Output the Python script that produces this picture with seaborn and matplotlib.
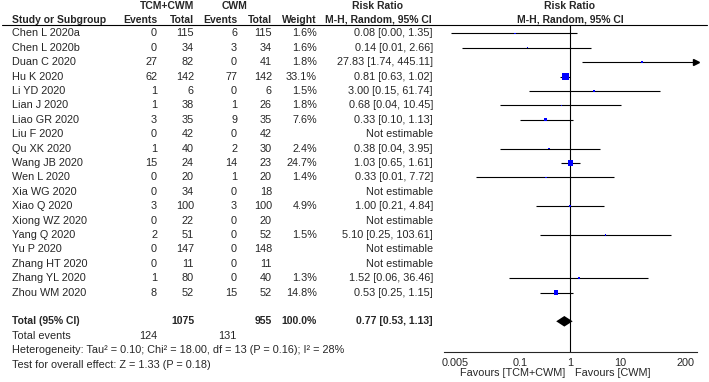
import numpy as np
import pandas as pd
import matplotlib
matplotlib.use("Agg")
import matplotlib.pyplot as plt
import seaborn as sns

sns.set_style("white")
plt.rcParams["font.family"] = ["Liberation Sans", "DejaVu Sans"]

# data
studies = ["Chen L 2020a", "Chen L 2020b", "Duan C 2020", "Hu K 2020", "Li YD 2020",
           "Lian J 2020", "Liao GR 2020", "Liu F 2020", "Qu XK 2020", "Wang JB 2020",
           "Wen L 2020", "Xia WG 2020", "Xiao Q 2020", "Xiong WZ 2020", "Yang Q 2020",
           "Yu P 2020", "Zhang HT 2020", "Zhang YL 2020", "Zhou WM 2020"]
tcm_events = [0, 0, 27, 62, 1, 1, 3, 0, 1, 15, 0, 0, 3, 0, 2, 0, 0, 1, 8]
tcm_total = [115, 34, 82, 142, 6, 38, 35, 42, 40, 24, 20, 34, 100, 22, 51, 147, 11, 80, 52]
cwm_events = [6, 3, 0, 77, 0, 1, 9, 0, 2, 14, 1, 0, 3, 0, 0, 0, 0, 0, 15]
cwm_total = [115, 34, 41, 142, 6, 26, 35, 42, 30, 23, 20, 18, 100, 20, 52, 148, 11, 40, 52]
nan = np.nan
weight = [1.6, 1.6, 1.8, 33.1, 1.5, 1.8, 7.6, nan, 2.4, 24.7, 1.4, nan, 4.9, nan, 1.5, nan, nan, 1.3, 14.8]
rr = [0.08, 0.14, 27.83, 0.81, 3.00, 0.68, 0.33, nan, 0.38, 1.03, 0.33, nan, 1.00, nan, 5.10, nan, nan, 1.52, 0.53]
rr_lo = [0.0042, 0.0068, 1.74, 0.63, 0.15, 0.04, 0.10, nan, 0.04, 0.65, 0.013, nan, 0.21, nan, 0.25, nan, nan, 0.06, 0.25]
rr_hi = [1.35, 2.66, 445.11, 1.02, 61.74, 10.45, 1.13, nan, 3.95, 1.61, 7.72, nan, 4.84, nan, 103.61, nan, nan, 36.46, 1.15]

total_n = [1075, 955]
total_events = [124, 131]
total_rr = [0.77, 0.53, 1.13]
ticks = [0.005, 0.1, 1, 10, 200]
tick_labels = ["0.005", "0.1", "1", "10", "200"]

het_text = "Heterogeneity: Tau\u00b2 = 0.10; Chi\u00b2 = 18.00, df = 13 (P = 0.16); I\u00b2 = 28%"
test_text = "Test for overall effect: Z = 1.33 (P = 0.18)"

W, H = 709, 382
fig = plt.figure(figsize=(W / 100, H / 100), dpi=100)
fs = 7.8
fsb = 7.5

# text table axes in pixel units
ax = fig.add_axes([0, 0, 1, 1])
ax.set_xlim(0, W)
ax.set_ylim(H, 0)
ax.axis("off")

row0, step = 33.3, 14.4
ys = [row0 + i * step for i in range(len(studies))]
y_total = row0 + 20 * step
y_tev = row0 + 21 * step
y_het = row0 + 22 * step
y_test = row0 + 23 * step

x_name, x_te, x_tt, x_ce, x_ct, x_w, x_rr = 12, 157, 194, 237, 272, 317, 433
x_rrc, x_plot = 378, 570

bold = dict(fontsize=fsb, fontweight="bold", va="center")
ax.text(167, 6, "TCM+CWM", ha="center", **bold)
ax.text(235, 6, "CWM", ha="center", **bold)
ax.text(x_rrc, 6, "Risk Ratio", ha="center", **bold)
ax.text(x_plot, 6, "Risk Ratio", ha="center", **bold)
y_h = 19.8
ax.text(x_name, y_h, "Study or Subgroup", ha="left", **bold)
ax.text(x_te, y_h, "Events", ha="right", **bold)
ax.text(x_tt, y_h, "Total", ha="right", **bold)
ax.text(x_ce, y_h, "Events", ha="right", **bold)
ax.text(x_ct, y_h, "Total", ha="right", **bold)
ax.text(x_w, y_h, "Weight", ha="right", **bold)
ax.text(x_rrc, y_h, "M-H, Random, 95% CI", ha="center", **bold)
ax.text(x_plot, y_h, "M-H, Random, 95% CI", ha="center", **bold)
ax.plot([2, 707], [24.5, 24.5], color="black", lw=0.8)

reg = dict(fontsize=fs, va="center")
for i, y in enumerate(ys):
    ax.text(x_name, y, studies[i], ha="left", **reg)
    ax.text(x_te, y, str(tcm_events[i]), ha="right", **reg)
    ax.text(x_tt, y, str(tcm_total[i]), ha="right", **reg)
    ax.text(x_ce, y, str(cwm_events[i]), ha="right", **reg)
    ax.text(x_ct, y, str(cwm_total[i]), ha="right", **reg)
    if np.isnan(weight[i]):
        ax.text(x_rr, y, "Not estimable", ha="right", **reg)
    else:
        ax.text(x_w, y, f"{weight[i]:.1f}%", ha="right", **reg)
        ax.text(x_rr, y, f"{rr[i]:.2f} [{rr_lo[i]:.2f}, {rr_hi[i]:.2f}]", ha="right", **reg)

ax.text(x_name, y_total, "Total (95% CI)", ha="left", **bold)
ax.text(x_tt, y_total, str(total_n[0]), ha="right", **bold)
ax.text(x_ct, y_total, str(total_n[1]), ha="right", **bold)
ax.text(x_w, y_total, f"{np.nansum(weight):.1f}%", ha="right", **bold)
ax.text(x_rr, y_total, f"{total_rr[0]:.2f} [{total_rr[1]:.2f}, {total_rr[2]:.2f}]", ha="right", **bold)
ax.text(x_name, y_tev, "Total events", ha="left", **reg)
ax.text(x_te, y_tev, str(total_events[0]), ha="right", **reg)
ax.text(x_ce, y_tev, str(total_events[1]), ha="right", **reg)
ax.text(x_name, y_het, het_text, ha="left", **reg)
ax.text(x_name, y_test, test_text, ha="left", **reg)

# forest axes, log scale, y in the same pixel rows
px_dec = 50.0
lim = 2.53
y_axis = 351.7
left = (x_plot - lim * px_dec) / W
fx = fig.add_axes([left, (H - y_axis) / H, 2 * lim * px_dec / W, y_axis / H])
fx.patch.set_alpha(0)
fx.set_xscale("log")
fx.set_xlim(10 ** -lim, 10 ** lim)
fx.set_ylim(y_axis, 0)
for s in ["top", "left", "right"]:
    fx.spines[s].set_visible(False)
fx.spines["bottom"].set_linewidth(0.8)
fx.set_yticks([])
fx.set_xticks(ticks)
fx.set_xticklabels(tick_labels)
fx.minorticks_off()
fx.tick_params(axis="x", direction="inout", length=7, width=0.8, labelsize=fs, pad=1)

df = pd.DataFrame({"y": ys, "rr": rr, "lo": rr_lo, "hi": rr_hi, "weight": weight}).dropna()
xmax = 10 ** lim
fx.vlines(1, 24.5, y_axis, color="black", lw=0.8)
fx.hlines(df["y"], df["lo"], df["hi"].clip(upper=xmax), color="black", lw=0.8)
over = df[df["hi"] > xmax]
fx.plot([xmax * 0.985] * len(over), over["y"], marker=">", color="black", ms=4, ls="none", clip_on=False)
wmin, wmax = df["weight"].min(), df["weight"].max()
sns.scatterplot(data=df, x="rr", y="y", size="weight", sizes=(0.65 * wmin, 0.65 * wmax),
                marker="s", color="#0000ff", linewidth=0, legend=False, ax=fx, zorder=3)
fx.set_xlabel("")
fx.set_ylabel("")

est, lo, hi = total_rr
fx.fill([lo, est, hi, est], [y_total, y_total - 5.3, y_total, y_total + 5.3], color="black", lw=0)

ax.text(565, 373.5, "Favours [TCM+CWM]", ha="right", **reg)
ax.text(575, 373.5, "Favours [CWM]", ha="left", **reg)

fig.savefig("out.png", dpi=100)
